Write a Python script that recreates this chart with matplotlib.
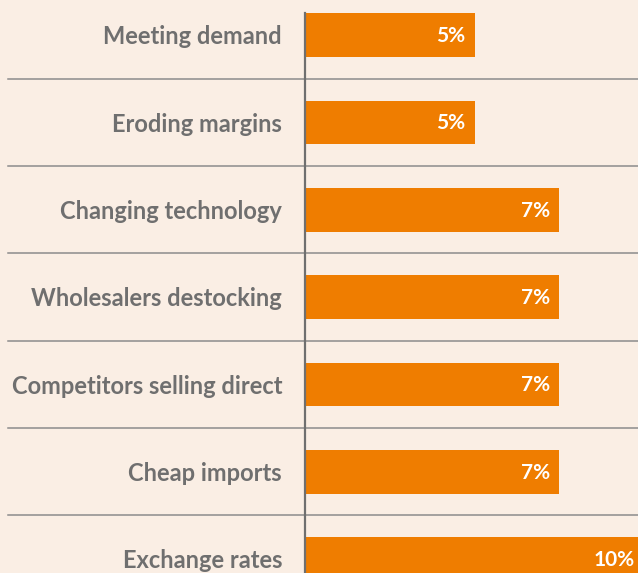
import matplotlib.pyplot as plt

##### data #####

categories = ["Meeting demand", "Eroding margins", "Changing technology",
	"Wholesalers destocking", "Competitors selling direct", "Cheap imports",
	"Exchange rates"]
values = [5, 5, 7.5, 7.5, 7.5, 7.5, 10]
value_labels = ["5%", "5%", "7%", "7%", "7%", "7%", "10%"]

BG = "#FAEEE4"
ORANGE = "#EF7D00"
GREY = "#6F6F6F"
LINE = "#8C8C8C"

plt.rcParams['font.family'] = ['Lato', 'DejaVu Sans']

fig = plt.figure(figsize=(6.38, 5.73), dpi=100, facecolor=BG)
ax = fig.add_axes([305/638, 0, 333/638, 560/573])
ax.set_facecolor(BG)

ypos = list(range(len(categories)))
ax.barh(ypos, values, height=0.5, color=ORANGE, zorder=2)

ax.set_xlim(0, 9.82)
ax.set_ylim(6.16, -0.252)

# only the left spine stays
for s in ["top", "right", "bottom"]:
	ax.spines[s].set_visible(False)
ax.spines["left"].set_color(GREY)
ax.spines["left"].set_linewidth(1.6)
ax.spines["left"].set_zorder(3)
ax.set_xticks([])
ax.set_yticks([])

# separators run across the label area as well
trans = ax.get_yaxis_transform()
for i in range(len(categories) - 1):
	ax.plot([-297/333, 1], [i + 0.5, i + 0.5], transform=trans,
		color=LINE, lw=1.1, clip_on=False, zorder=1)

for i in ypos:
	ax.annotate(categories[i], (0, i), xytext=(-16.5, -1.2), textcoords="offset points",
		ha="right", va="center", fontsize=17, fontweight="bold", color=GREY)
	ax.annotate(value_labels[i], (values[i], i), xytext=(-6.5, -0.8), textcoords="offset points",
		ha="right", va="center", fontsize=15, fontweight="bold", color="white",
		annotation_clip=False)

fig.savefig("out.png", dpi=100, facecolor=BG)
